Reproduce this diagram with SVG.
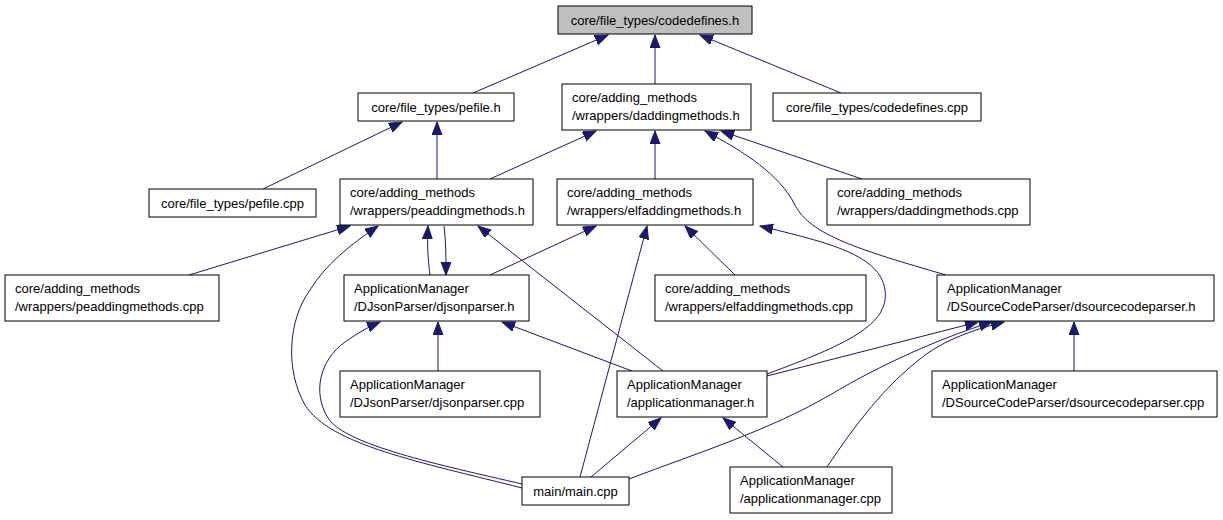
<svg xmlns="http://www.w3.org/2000/svg" width="1223" height="520" viewBox="0 0 1223 520">
<style>
.n rect{fill:#fff;stroke:#000;stroke-width:1}
.n text{font-family:"Liberation Sans",Arial,sans-serif;font-size:13px;fill:#000}
.c{text-anchor:middle}
#edges path{fill:none;stroke:#191970;stroke-width:1;marker-end:url(#ah)}
</style>
<defs>
<marker id="ah" markerUnits="userSpaceOnUse" markerWidth="14" markerHeight="11" refX="13" refY="5" orient="auto">
<path d="M0,0 L13,5 L0,10 z" fill="#191970" stroke="#191970" stroke-width="1"/>
</marker>
</defs>
<rect width="1223" height="520" fill="#fff"/>
<g id="edges">
<path d="M473,93 L608,35"/>
<path d="M655,84 L655,35"/>
<path d="M841,93 L700,35"/>
<path d="M263,189 L402,122"/>
<path d="M437,179 L437,122"/>
<path d="M490,179 L596,131"/>
<path d="M655,179 L655,131"/>
<path d="M862,179 L721,131"/>
<path d="M946,275 C860,250 810,235 795,205 C780,175 745,152 705,131"/>
<path d="M189,275 L350,226"/>
<path d="M430,275 C428,260 427,245 428,226"/>
<path d="M444,226 C446,242 446,258 446,275"/>
<path d="M490,275 L596,226"/>
<path d="M663,371 L478,226"/>
<path d="M522,488 C420,462 330,445 305,405 C285,370 288,320 310,290 C325,265 350,245 378,226"/>
<path d="M522,484 C440,465 345,445 328,418 C312,392 320,360 345,342 C358,333 368,327 380,322"/>
<path d="M580,477 L647,226"/>
<path d="M735,275 L685,226"/>
<path d="M767,374 C845,345 890,325 885,290 C880,255 830,243 760,226"/>
<path d="M632,371 L502,322"/>
<path d="M438,371 L438,322"/>
<path d="M767,376 L978,322"/>
<path d="M629,479 C700,452 770,430 830,395 C880,365 940,338 992,322"/>
<path d="M827,467 C855,425 885,385 925,355 C950,337 980,328 1004,322"/>
<path d="M1074,371 L1074,322"/>
<path d="M591,477 L661,418"/>
<path d="M783,467 L723,418"/>
</g>
<g id="codedefines_h" class="n"><rect x="558" y="6" width="194" height="28" style="fill:#bfbfbf"/><text class="c" x="655" y="24.5">core/file_types/codedefines.h</text></g>
<g id="pefile_h" class="n"><rect x="358" y="93" width="156" height="28"/><text class="c" x="436" y="111.5">core/file_types/pefile.h</text></g>
<g id="daddingmethods_h" class="n"><rect x="562" y="84" width="189" height="46"/><text x="572" y="102">core/adding_methods</text><text x="572" y="120">/wrappers/daddingmethods.h</text></g>
<g id="codedefines_cpp" class="n"><rect x="773" y="93" width="208" height="28"/><text class="c" x="877" y="111.5">core/file_types/codedefines.cpp</text></g>
<g id="pefile_cpp" class="n"><rect x="149" y="189" width="167" height="28"/><text class="c" x="232.5" y="207.5">core/file_types/pefile.cpp</text></g>
<g id="peaddingmethods_h" class="n"><rect x="340" y="179" width="193" height="46"/><text x="350" y="197">core/adding_methods</text><text x="350" y="215">/wrappers/peaddingmethods.h</text></g>
<g id="elfaddingmethods_h" class="n"><rect x="557" y="179" width="196" height="46"/><text x="567" y="197">core/adding_methods</text><text x="567" y="215">/wrappers/elfaddingmethods.h</text></g>
<g id="daddingmethods_cpp" class="n"><rect x="827" y="179" width="203" height="46"/><text x="837" y="197">core/adding_methods</text><text x="837" y="215">/wrappers/daddingmethods.cpp</text></g>
<g id="peaddingmethods_cpp" class="n"><rect x="5" y="275" width="214" height="46"/><text x="15" y="293">core/adding_methods</text><text x="15" y="311">/wrappers/peaddingmethods.cpp</text></g>
<g id="djsonparser_h" class="n"><rect x="344" y="275" width="185" height="46"/><text x="354" y="293">ApplicationManager</text><text x="354" y="311">/DJsonParser/djsonparser.h</text></g>
<g id="elfaddingmethods_cpp" class="n"><rect x="655" y="275" width="211" height="46"/><text x="665" y="293">core/adding_methods</text><text x="665" y="311">/wrappers/elfaddingmethods.cpp</text></g>
<g id="dsourcecodeparser_h" class="n"><rect x="937" y="275" width="277" height="46"/><text x="947" y="293">ApplicationManager</text><text x="947" y="311">/DSourceCodeParser/dsourcecodeparser.h</text></g>
<g id="djsonparser_cpp" class="n"><rect x="340" y="371" width="200" height="46"/><text x="350" y="389">ApplicationManager</text><text x="350" y="407">/DJsonParser/djsonparser.cpp</text></g>
<g id="applicationmanager_h" class="n"><rect x="617" y="371" width="150" height="46"/><text x="627" y="389">ApplicationManager</text><text x="627" y="407">/applicationmanager.h</text></g>
<g id="dsourcecodeparser_cpp" class="n"><rect x="932" y="371" width="285" height="46"/><text x="942" y="389">ApplicationManager</text><text x="942" y="407">/DSourceCodeParser/dsourcecodeparser.cpp</text></g>
<g id="main_cpp" class="n"><rect x="522" y="477" width="107" height="28"/><text class="c" x="575.5" y="495.5">main/main.cpp</text></g>
<g id="applicationmanager_cpp" class="n"><rect x="730" y="467" width="162" height="46"/><text x="740" y="485">ApplicationManager</text><text x="740" y="503">/applicationmanager.cpp</text></g>
</svg>
